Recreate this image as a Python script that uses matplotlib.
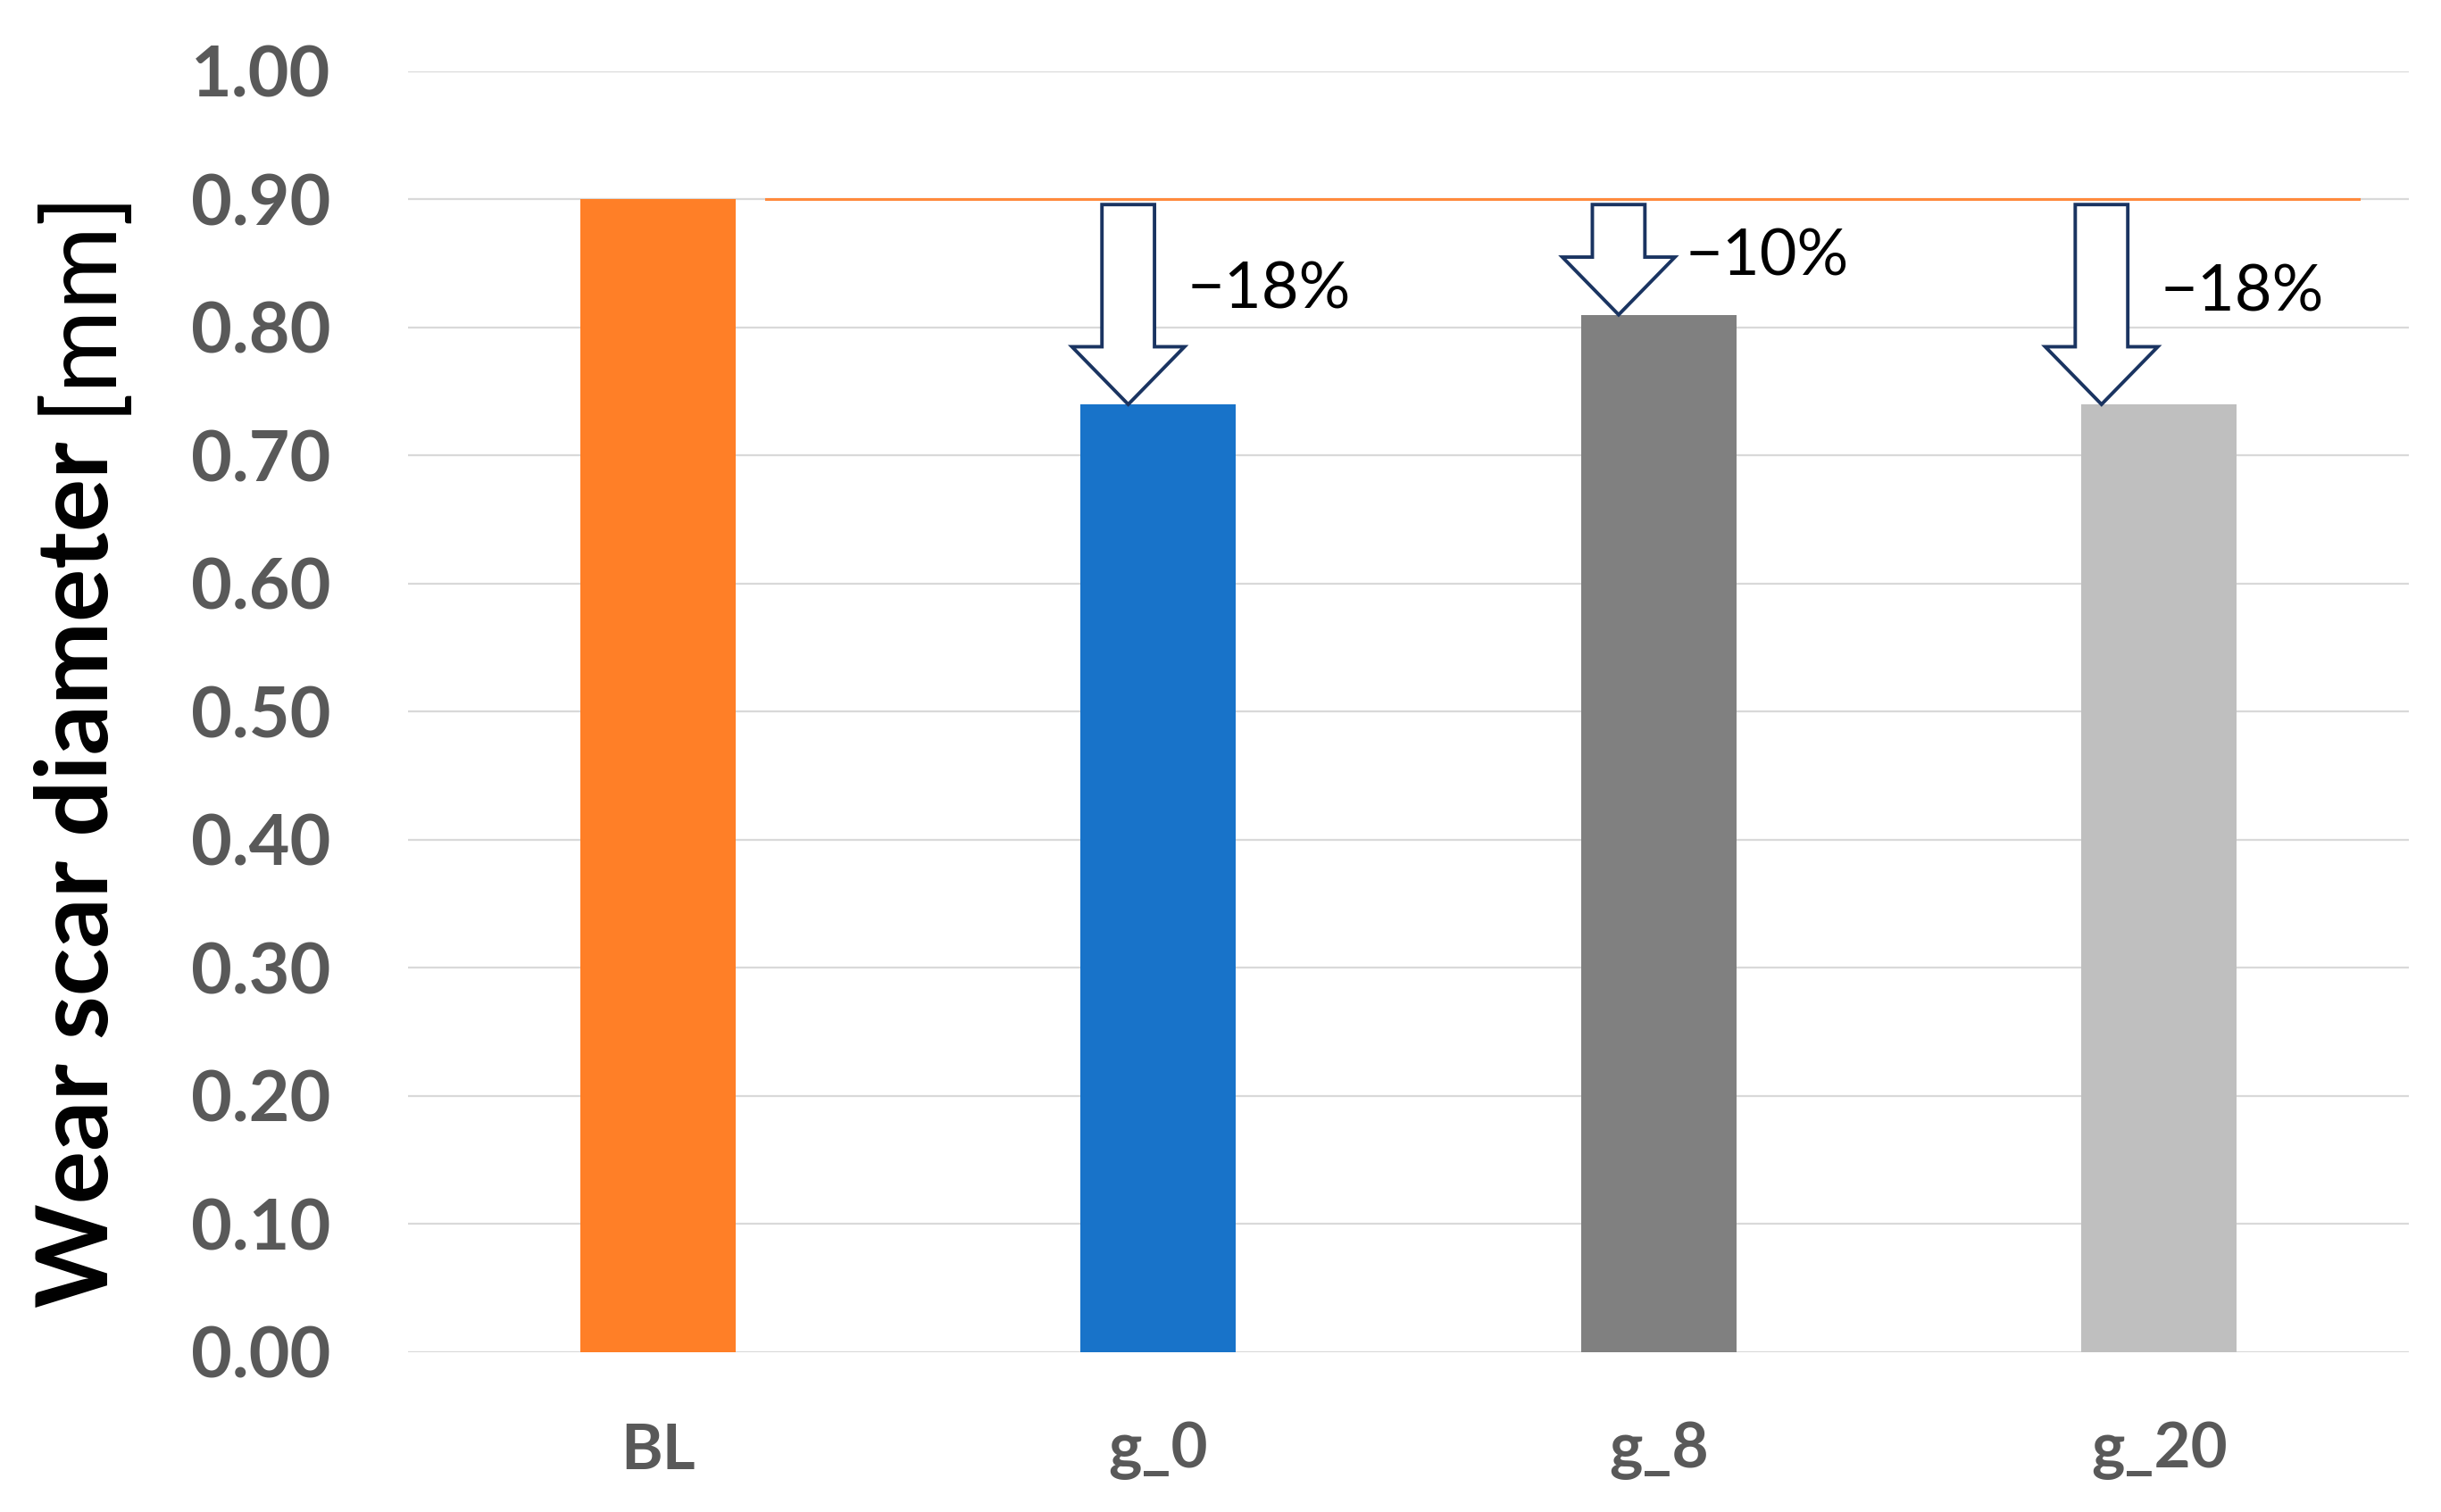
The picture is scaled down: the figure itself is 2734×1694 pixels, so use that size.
import matplotlib
matplotlib.use('Agg')
import matplotlib.pyplot as plt
from matplotlib.patches import FancyArrow

# data
categories = ['BL', 'g_0', 'g_8', 'g_20']
wear_scar = [0.90, 0.74, 0.81, 0.74]
bar_colors = ['#FF7F27', '#1873C9', '#808080', '#BFBFBF']
changes = ['\u221218%', '\u221210%', '\u221218%']
baseline_level = 0.90
y_ticks = [0.0, 0.1, 0.2, 0.3, 0.4, 0.5, 0.6, 0.7, 0.8, 0.9, 1.0]

# arrow/label placement relative to category index
arrow_offsets = [-0.06, -0.08, -0.115]
label_dx = [0.057, 0.054, 0.002]
label_y = [0.829, 0.855, 0.827]

fonts = ['Lato', 'DejaVu Sans']
plt.rcParams['font.family'] = fonts

fig = plt.figure(figsize=(27.34, 16.94), dpi=100)
ax = fig.add_axes([0.167, 0.1057, 0.82, 0.8471])

x = list(range(len(categories)))
ax.bar(x, wear_scar, width=0.31, color=bar_colors, zorder=2)

ax.set_xlim(-0.5, 3.5)
ax.set_ylim(0, 1.0)
ax.set_yticks(y_ticks)
ax.set_yticklabels(['%.2f' % v for v in y_ticks])
ax.set_xticks(x)
ax.set_xticklabels(categories)
ax.grid(axis='y', color='#D9D9D9', lw=1.6, zorder=0)
ax.set_axisbelow(True)
for s in ax.spines.values():
    s.set_visible(False)
ax.tick_params(axis='y', length=0, pad=62, labelsize=57, labelcolor='#595959')
ax.tick_params(axis='x', length=0, pad=56, labelsize=51, labelcolor='#595959')
for lab in ax.get_yticklabels() + ax.get_xticklabels():
    lab.set_fontweight('bold')

# baseline reference line
ax.plot([0.217, 3.40], [baseline_level, baseline_level], color='#FF8A3D', lw=2.2, zorder=3)

# hollow arrows + percentage labels
for i in range(1, len(categories)):
    xa = x[i] + arrow_offsets[i - 1]
    top = baseline_level - 0.004
    arr = FancyArrow(xa, top, 0, wear_scar[i] - top, width=0.105, head_width=0.225,
                     head_length=0.045, length_includes_head=True,
                     facecolor='white', edgecolor='#1A3461', lw=2.8, zorder=4)
    ax.add_patch(arr)
    ax.text(x[i] + label_dx[i - 1], label_y[i - 1], changes[i - 1], fontsize=52,
            ha='left', va='center', color='black', zorder=5)

# y label: bold words plus regular unit
fig.text(121 / 2734, 1 - 980 / 1694, 'Wear scar diameter', rotation=90,
         rotation_mode='anchor', ha='center', va='baseline', fontsize=80,
         fontweight='bold', color='black')
fig.text(121 / 2734, 1 - 335 / 1694, '[mm]', rotation=90,
         rotation_mode='anchor', ha='center', va='baseline', fontsize=82,
         color='black')

fig.savefig('out.png', dpi=100)
